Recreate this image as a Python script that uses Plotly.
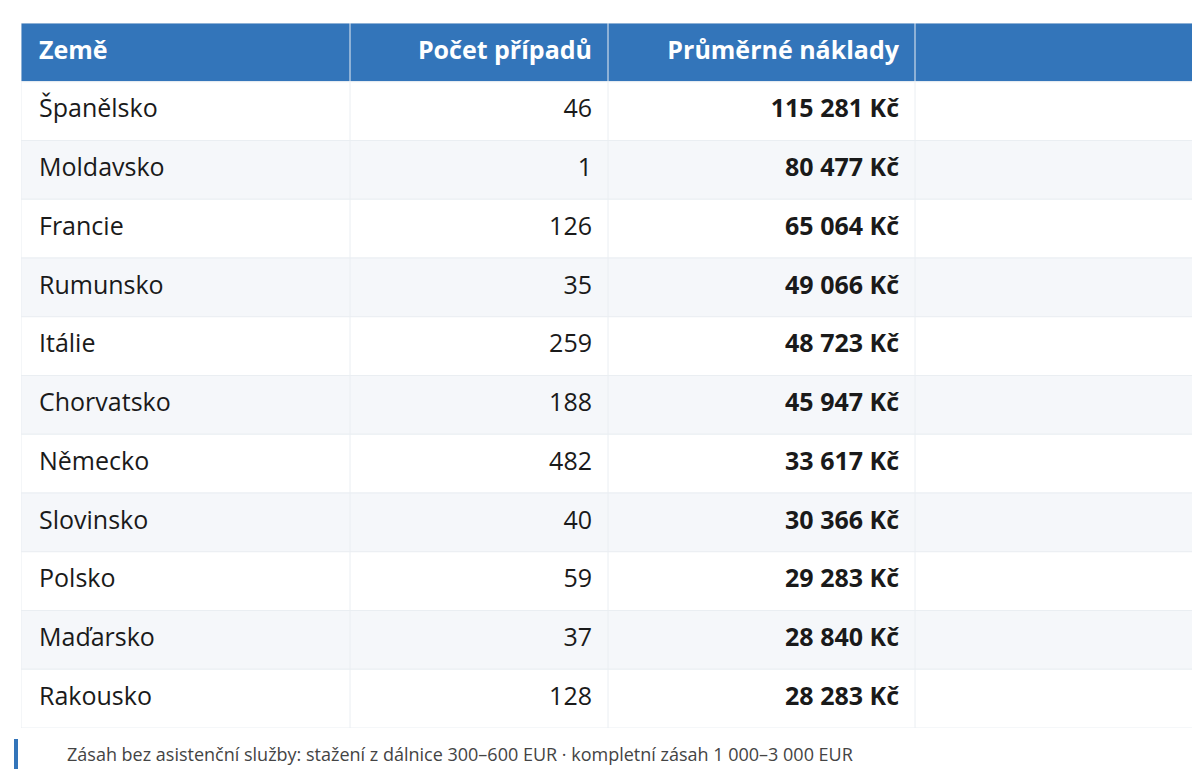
import plotly.graph_objects as go

countries = ["Španělsko", "Moldavsko", "Francie", "Rumunsko", "Itálie", "Chorvatsko",
             "Německo", "Slovinsko", "Polsko", "Maďarsko", "Rakousko"]
cases = [46, 1, 126, 35, 259, 188, 482, 40, 59, 37, 128]
avg_cost = [115281, 80477, 65064, 49066, 48723, 45947, 33617, 30366, 29283, 28840, 28283]
headers = ["Země", "Počet případů", "Průměrné náklady", ""]
note = "Zásah bez asistenční služby: stažení z dálnice 300–600 EUR · kompletní zásah 1 000–3 000 EUR"

W, H = 1200, 772
BLUE = "#3375BA"
FONT = "Open Sans"
top, bottom = 15, 720
left, right = 13, 1192
tw = right - left
# column edges in table pixel units
edges = [0, 329, 587, 894, tw]

rows = ["__header__"] + countries
row_fill = [BLUE] + ["#FFFFFF" if i % 2 == 0 else "#F5F7FA" for i in range(len(countries))]

fig = go.Figure()

# row backgrounds
fig.add_trace(go.Bar(
    y=rows, x=[tw] * len(rows), orientation="h", width=1,
    marker=dict(color=row_fill, line=dict(color="#EAEEF2", width=1)),
    hoverinfo="skip", xaxis="x2", yaxis="y"))

# column separators
sep_x, sep_y = [], []
for e in edges[1:-1]:
    sep_x += [e, e, None]
    sep_y += [rows[0], rows[-1], None]
for e, col in zip(edges[1:-1], ["#5A8FC8"] * 3):
    fig.add_trace(go.Scatter(
        x=[e, e], y=[-0.5, len(rows) - 0.5], mode="lines",
        line=dict(color="#EAEEF2", width=1), hoverinfo="skip", xaxis="x2", yaxis="y3"))

# header texts
hdr_font = dict(color="white", size=25, family=FONT)
fig.add_trace(go.Scatter(x=[18], y=[rows[0]], mode="text", text=[f"<b>{headers[0]}</b>"],
                         textposition="middle right", textfont=hdr_font,
                         hoverinfo="skip", xaxis="x2", yaxis="y"))
fig.add_trace(go.Scatter(x=[edges[2] - 16, edges[3] - 16], y=[rows[0]] * 2, mode="text",
                         text=[f"<b>{headers[1]}</b>", f"<b>{headers[2]}</b>"],
                         textposition="middle left", textfont=hdr_font,
                         hoverinfo="skip", xaxis="x2", yaxis="y"))

# body texts
body_font = dict(color="#1A1A1A", size=25, family=FONT)
fig.add_trace(go.Scatter(x=[18] * len(countries), y=countries, mode="text", text=countries,
                         textposition="middle right", textfont=body_font,
                         hoverinfo="skip", xaxis="x2", yaxis="y"))
fig.add_trace(go.Scatter(x=[edges[2] - 16] * len(countries), y=countries, mode="text",
                         text=[str(v) for v in cases], textposition="middle left",
                         textfont=body_font, hoverinfo="skip", xaxis="x2", yaxis="y"))
fig.add_trace(go.Scatter(x=[edges[3] - 16] * len(countries), y=countries, mode="text",
                         text=["<b>" + f"{v:,}".replace(",", " ") + " Kč</b>" for v in avg_cost],
                         textposition="middle left", textfont=body_font,
                         hoverinfo="skip", xaxis="x2", yaxis="y"))

# bars
mx = max(avg_cost)
fig.add_trace(go.Bar(
    y=countries, x=[mx] * len(countries), orientation="h", width=0.37,
    marker=dict(color="white", line=dict(width=0),
                pattern=dict(shape=".", fgcolor="#9DBFE3", bgcolor="white", size=4, solidity=0.35)),
    hoverinfo="skip", xaxis="x", yaxis="y"))
fig.add_trace(go.Bar(
    y=countries, x=avg_cost, orientation="h", width=0.37,
    marker=dict(color=BLUE, line=dict(width=0)), xaxis="x", yaxis="y"))

ydom = [1 - bottom / H, 1 - top / H]
fig.update_layout(
    width=W, height=H, margin=dict(l=0, r=0, t=0, b=0),
    paper_bgcolor="white", plot_bgcolor="rgba(0,0,0,0)",
    showlegend=False, barmode="overlay",
    xaxis=dict(domain=[925 / W, 1175 / W], range=[0, mx], visible=False, fixedrange=True),
    xaxis2=dict(domain=[left / W, right / W], range=[0, tw], visible=False, fixedrange=True),
    yaxis=dict(domain=ydom, range=[len(rows) - 0.5, -0.5], type="category",
               categoryorder="array", categoryarray=rows, visible=False, fixedrange=True),
    yaxis3=dict(domain=ydom, range=[-0.5, len(rows) - 0.5], visible=False, fixedrange=True,
                overlaying="y"),
    shapes=[dict(type="line", xref="paper", yref="paper", x0=8 / W, x1=8 / W,
                 y0=1 - 731 / H, y1=1 - 761 / H, line=dict(color=BLUE, width=4))],
    annotations=[dict(text=note, xref="paper", yref="paper", x=57 / W, y=1 - 746 / H,
                      xanchor="left", yanchor="middle", showarrow=False,
                      font=dict(size=18, color="#444", family=FONT))],
)

fig.write_html("out.html")
